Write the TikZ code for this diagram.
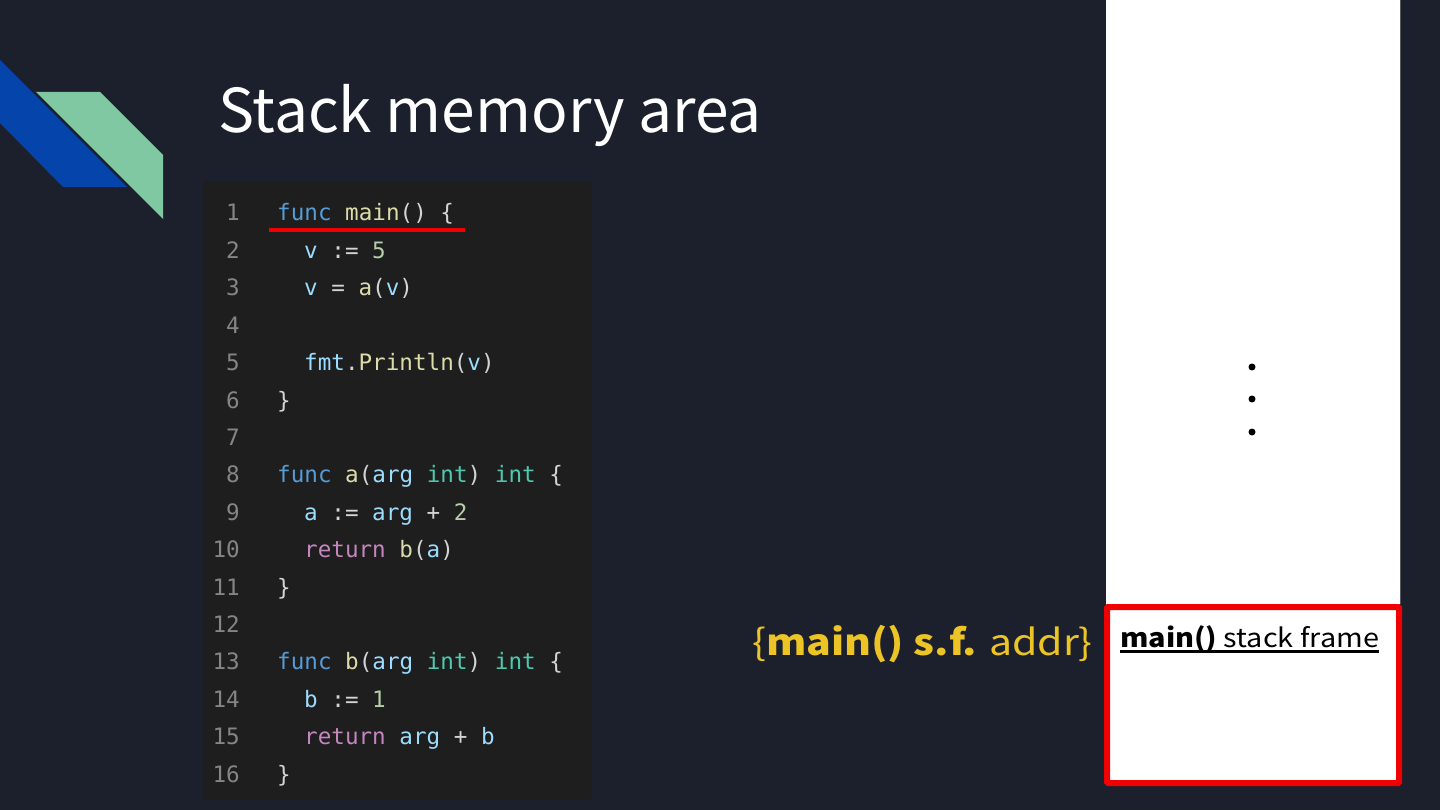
\documentclass[tikz,border=0pt]{standalone}
\usepackage{fontspec}
\setmainfont{Noto Sans CJK JP}
\setmonofont{DejaVu Sans Mono}
\definecolor{bg}{RGB}{27,32,44}
\definecolor{codebg}{RGB}{30,30,30}
\definecolor{logoblue}{RGB}{5,68,170}
\definecolor{logogreen}{RGB}{128,200,162}
\definecolor{ckw}{RGB}{86,156,214}
\definecolor{cfn}{RGB}{220,220,170}
\definecolor{cvr}{RGB}{156,220,254}
\definecolor{cnm}{RGB}{181,206,168}
\definecolor{cty}{RGB}{78,201,176}
\definecolor{crt}{RGB}{197,134,192}
\definecolor{cpu}{RGB}{212,212,212}
\definecolor{cln}{RGB}{133,133,133}
\definecolor{addr}{RGB}{236,196,38}
\definecolor{hired}{RGB}{240,0,0}
\newcommand{\Kw}[1]{\textcolor{ckw}{#1}}
\newcommand{\Fn}[1]{\textcolor{cfn}{#1}}
\newcommand{\Vr}[1]{\textcolor{cvr}{#1}}
\newcommand{\Nm}[1]{\textcolor{cnm}{#1}}
\newcommand{\Ty}[1]{\textcolor{cty}{#1}}
\newcommand{\Rt}[1]{\textcolor{crt}{#1}}
\begin{document}
\begin{tikzpicture}[x=1pt,y=-1pt,
  code/.style={anchor=base west,inner sep=0pt,text=cpu,font=\ttfamily\fontsize{22.6}{24}\selectfont},
  lnum/.style={anchor=base east,inner sep=0pt,text=cln,font=\ttfamily\fontsize{22.6}{24}\selectfont},
  dot/.style={circle,fill=black,inner sep=0pt,minimum size=7pt}]
\fill[bg] (0,0) rectangle (1440,810);
\useasboundingbox (0,0) rectangle (1440,810);
% logo
\fill[logoblue] (0,60) -- (127,187) -- (63,187) -- (0,123) -- cycle;
\fill[logogreen] (35,92) -- (100,92) -- (163,155) -- (163,220) -- cycle;
\draw[bg,line width=1.2pt] (35,92) -- (163,220);
% title
\node[anchor=base west,inner sep=0pt,text=white,font=\fontsize{60.5}{66}\selectfont] (title) at (218,133) {Stack memory area};
% code block
\fill[codebg] (203,181) rectangle (592,800);
\foreach \n in {1,...,16} {
  \node[lnum] (ln\n) at (240,{221+(\n-1)*37.4}) {\n};
}
\node[code] (c1) at (277,221) {\Kw{func} \Fn{main}() \{};
\node[code] (c2) at (304,258.4) {\Vr{v} := \Nm{5}};
\node[code] (c3) at (304,295.8) {\Vr{v} = \Fn{a}(\Vr{v})};
\node[code] (c5) at (304,370.6) {\Vr{fmt}.\Fn{Println}(\Vr{v})};
\node[code] (c6) at (277,408) {\}};
\node[code] (c8) at (277,482.8) {\Kw{func} \Fn{a}(\Vr{arg} \Ty{int}) \Ty{int} \{};
\node[code] (c9) at (304,520.2) {\Vr{a} := \Vr{arg} + \Nm{2}};
\node[code] (c10) at (304,557.6) {\Rt{return} \Fn{b}(\Vr{a})};
\node[code] (c11) at (277,595) {\}};
\node[code] (c13) at (277,669.8) {\Kw{func} \Fn{b}(\Vr{arg} \Ty{int}) \Ty{int} \{};
\node[code] (c14) at (304,707.2) {\Vr{b} := \Nm{1}};
\node[code] (c15) at (304,744.6) {\Rt{return} \Vr{arg} + \Vr{b}};
\node[code] (c16) at (277,782) {\}};
\draw[hired,line width=4pt] (269,230) -- (465,230);
% stack column
\fill[white] (1106,0) rectangle (1400,606);
\draw[gray!60!bg,line width=1pt] (1400.5,0) -- (1400.5,604);
\node[dot] (d1) at (1252,367) {};
\node[dot] (d2) at (1252,399) {};
\node[dot] (d3) at (1252,432) {};
\draw[hired,line width=6pt,fill=white,rounded corners=1pt] (1107,607) rectangle (1399,783);
\node[anchor=base west,inner sep=0pt,font=\fontsize{26}{30}\selectfont] (sf) at (1120,647) {\scalebox{1.11}[1]{\textbf{main()} stack frame}};
\draw[black,line width=2.2pt] (sf.base west) ++(0,4.5) -- ([yshift=-4.5pt]sf.base east);
\node[anchor=base east,inner sep=0pt,text=addr,font=\fontsize{36}{40}\selectfont] (ad) at (1093,655) {\scalebox{1.14}[1]{\{\textbf{main() s.f.} addr\}}};
\end{tikzpicture}
\end{document}
